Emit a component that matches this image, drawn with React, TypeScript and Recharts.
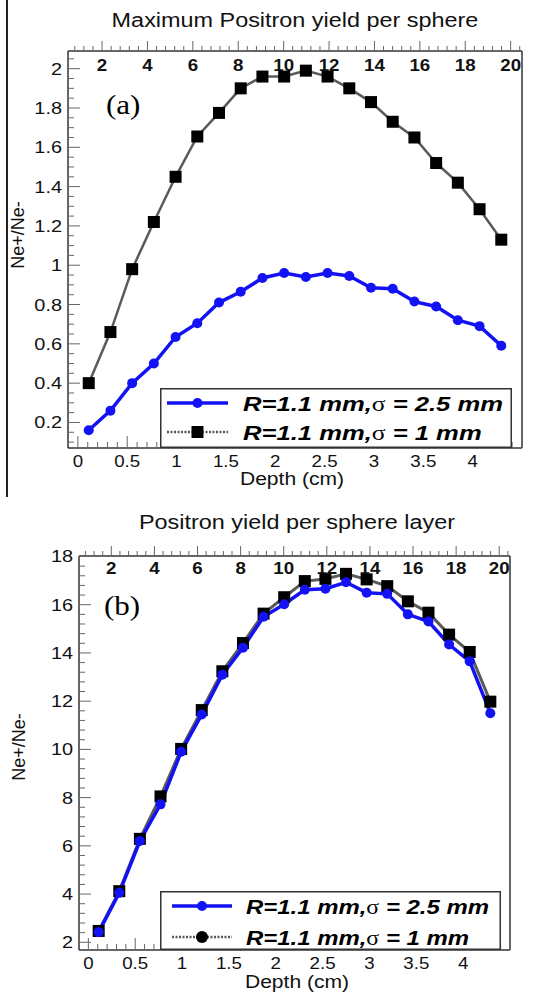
import React from "react";
import { Legend, Line, LineChart, XAxis, YAxis } from "recharts";

// depth of each sphere layer centre (cm)
const depth = [0.11, 0.33, 0.55, 0.77, 0.99, 1.21, 1.43, 1.65, 1.87, 2.09, 2.31, 2.53, 2.75, 2.97, 3.19, 3.41, 3.63, 3.85, 4.07, 4.29];
// layer number (top axis)
const layer = [1, 2, 3, 4, 5, 6, 7, 8, 9, 10, 11, 12, 13, 14, 15, 16, 17, 18, 19, 20];

// (a) maximum positron yield per sphere
const maxWide = [0.16, 0.26, 0.4, 0.5, 0.635, 0.705, 0.81, 0.865, 0.935, 0.96, 0.94, 0.96, 0.945, 0.885, 0.88, 0.815, 0.79, 0.72, 0.69, 0.59];
const maxNarrow = [0.4, 0.66, 0.98, 1.22, 1.45, 1.655, 1.775, 1.9, 1.96, 1.96, 1.99, 1.96, 1.9, 1.83, 1.73, 1.65, 1.52, 1.42, 1.285, 1.13];

// (b) positron yield per sphere layer
const layerWide = [2.42, 4.05, 6.2, 7.72, 9.9, 11.45, 13.1, 14.22, 15.5, 16.02, 16.62, 16.66, 16.93, 16.5, 16.45, 15.6, 15.3, 14.35, 13.65, 11.5];
const layerNarrow = [2.47, 4.12, 6.29, 8.05, 10.02, 11.63, 13.24, 14.41, 15.63, 16.31, 16.98, 17.07, 17.28, 17.05, 16.77, 16.14, 15.67, 14.76, 14.04, 11.98];

const SERIES_WIDE = "R=1.1 mm,σ = 2.5 mm";
const SERIES_NARROW = "R=1.1 mm,σ = 1 mm";

const depthMajor = [0, 0.5, 1, 1.5, 2, 2.5, 3, 3.5, 4];
const layerMajor = [2, 4, 6, 8, 10, 12, 14, 16, 18, 20];
const maxMajor = [0.2, 0.4, 0.6, 0.8, 1, 1.2, 1.4, 1.6, 1.8, 2];
const layerYMajor = [2, 4, 6, 8, 10, 12, 14, 16, 18];

const FONT = "'Liberation Sans', Arial, sans-serif";
const BLUE = "#1212f4";
const FRAME = "#333";
const SX = 1.17;

const steps = (from: number, to: number, step: number) => {
  const out: number[] = [];
  for (let v = from; v <= to + 1e-9; v += step) out.push(Math.round(v * 1000) / 1000);
  return out;
};
const isMajor = (v: number, majors: number[]) => majors.some((m) => Math.abs(m - v) < 1e-6);

const maxRows = depth.map((d, i) => ({ depth: d, layer: layer[i], wide: maxWide[i], narrow: maxNarrow[i] }));
const layerRows = depth.map((d, i) => ({ depth: d, layer: layer[i], wide: layerWide[i], narrow: layerNarrow[i] }));

const bottomTick = (majors: number[]) => (props: any) => {
  const { x, y, payload } = props;
  const major = isMajor(payload.value, majors);
  return (
    <g>
      <line x1={x} x2={x} y1={y} y2={y - (major ? 12 : 6)} stroke="#666" strokeWidth={1} />
      {major && (
        <text transform={`translate(${x},${y + 19}) scale(${SX},1)`} textAnchor="middle" fontFamily={FONT} fontSize={16} fill="#111">
          {payload.value}
        </text>
      )}
    </g>
  );
};

const topTick = (majors: number[], dy: number) => (props: any) => {
  const { x, y, payload } = props;
  const major = isMajor(payload.value, majors);
  return (
    <g>
      <line x1={x} x2={x} y1={y} y2={y - (major ? 10 : 5)} stroke="#666" strokeWidth={1} />
      {major && (
        <text transform={`translate(${x},${y + dy}) scale(${SX},1)`} textAnchor="middle" fontFamily={FONT} fontWeight="bold" fontSize={16} fill="#111">
          {payload.value}
        </text>
      )}
    </g>
  );
};

const leftTick = (majors: number[]) => (props: any) => {
  const { x, y, payload } = props;
  const major = isMajor(payload.value, majors);
  return (
    <g>
      <line x1={x} x2={x + (major ? 12 : 6)} y1={y} y2={y} stroke="#666" strokeWidth={1} />
      {major && (
        <text transform={`translate(${x - 6},${y + 6}) scale(${SX},1)`} textAnchor="end" fontFamily={FONT} fontSize={17} fill="#111">
          {payload.value}
        </text>
      )}
    </g>
  );
};

const squareDot = (props: any) => {
  const { cx, cy, index } = props;
  return <rect key={`sq-${index}`} x={cx - 6} y={cy - 6} width={12} height={12} fill="#000" />;
};

interface LegendCfg {
  width: number;
  height: number;
  rows: number[];
  sample: [number, number];
  textX: number;
  textScale: number;
  narrowCircle: boolean;
}

const makeLegend = (cfg: LegendCfg) => (props: any) => {
  const entries: any[] = props.payload ?? [];
  const order = [SERIES_WIDE, SERIES_NARROW];
  const mid = (cfg.sample[0] + cfg.sample[1]) / 2;
  return (
    <svg width={cfg.width} height={cfg.height} style={{ display: "block" }}>
      <rect x={0.75} y={0.75} width={cfg.width - 1.5} height={cfg.height - 1.5} fill="#fff" stroke={FRAME} strokeWidth={1.5} />
      {order.map((name, i) => {
        const entry = entries.find((e) => e.value === name);
        const label = entry ? String(entry.value) : name;
        const [before, after] = label.split("σ");
        const y = cfg.rows[i];
        const wide = i === 0;
        return (
          <g key={name}>
            <line
              x1={cfg.sample[0]}
              x2={cfg.sample[1]}
              y1={y}
              y2={y}
              stroke={wide ? BLUE : "#555"}
              strokeWidth={wide ? 3.5 : 2.5}
              strokeDasharray={wide ? undefined : "2 1.5"}
            />
            {wide ? (
              <circle cx={mid} cy={y} r={5} fill={BLUE} />
            ) : cfg.narrowCircle ? (
              <circle cx={mid} cy={y} r={6} fill="#000" />
            ) : (
              <rect x={mid - 6} y={y - 6} width={12} height={12} fill="#000" />
            )}
            <text
              transform={`translate(${cfg.textX},${y + 7.5}) scale(${cfg.textScale},1)`}
              fontFamily={FONT}
              fontWeight="bold"
              fontStyle="italic"
              fontSize={21}
              fill="#000"
            >
              {before}
              <tspan fontFamily="'Liberation Serif', serif" fontWeight="normal" fontStyle="normal">
                σ
              </tspan>
              {after}
            </text>
          </g>
        );
      })}
    </svg>
  );
};

const textStyle = (left: number, top: number, size: number, extra: React.CSSProperties = {}): React.CSSProperties => ({
  position: "absolute",
  left,
  top,
  transform: `translate(-50%,-50%) scaleX(${SX})`,
  whiteSpace: "nowrap",
  fontFamily: FONT,
  fontSize: size,
  lineHeight: 1,
  color: "#111",
  ...extra,
});

const yTitleStyle = (left: number, top: number): React.CSSProperties => ({
  position: "absolute",
  left,
  top,
  transform: "translate(-50%,-50%) rotate(-90deg)",
  whiteSpace: "nowrap",
  fontFamily: FONT,
  fontSize: 18,
  lineHeight: 1,
  color: "#111",
});

const letterStyle = (left: number, top: number): React.CSSProperties => ({
  position: "absolute",
  left,
  top,
  transform: `translate(0,-50%) scaleX(1.15)`,
  transformOrigin: "left center",
  fontFamily: "'Liberation Serif', 'Times New Roman', serif",
  fontSize: 27,
  lineHeight: 1,
  color: "#000",
});

export default function App() {
  return (
    <div style={{ position: "absolute", left: 0, top: 0, width: 552, height: 993, background: "#fff", overflow: "hidden" }}>
      <div style={{ position: "absolute", left: 6, top: 0, width: 2, height: 497, background: "#222" }} />

      {/* (a) */}
      <div style={{ position: "absolute", left: 0, top: 0 }}>
        <LineChart width={552} height={500} data={maxRows} margin={{ top: 31, right: 29, bottom: 22, left: 8 }}>
          <XAxis
            type="number"
            dataKey="depth"
            domain={[-0.1, 4.5]}
            allowDataOverflow
            ticks={steps(0, 4.5, 0.1)}
            interval={0}
            height={30}
            tickSize={0}
            tickMargin={0}
            tickLine={false}
            tick={bottomTick(depthMajor)}
            axisLine={{ stroke: FRAME, strokeWidth: 1.5 }}
          />
          <XAxis
            xAxisId="top"
            orientation="top"
            type="number"
            dataKey="layer"
            domain={[0.5, 20.5]}
            allowDataOverflow
            ticks={steps(0.8, 20.4, 0.4)}
            interval={0}
            height={20}
            tickSize={0}
            tickMargin={0}
            tickLine={false}
            tick={topTick(layerMajor, 20)}
            axisLine={{ stroke: FRAME, strokeWidth: 1.5 }}
          />
          <YAxis
            type="number"
            domain={[0.07, 2.09]}
            allowDataOverflow
            ticks={steps(0.1, 2.05, 0.05)}
            interval={0}
            width={60}
            tickSize={0}
            tickMargin={0}
            tickLine={false}
            tick={leftTick(maxMajor)}
            axisLine={{ stroke: FRAME, strokeWidth: 1.5 }}
          />
          <YAxis yAxisId="frame" orientation="right" width={1} tick={false} tickLine={false} axisLine={{ stroke: FRAME, strokeWidth: 1.5 }} />
          <Legend
            layout="horizontal"
            verticalAlign="middle"
            align="center"
            wrapperStyle={{ left: 160, top: 388, width: 352, height: 60 }}
            content={makeLegend({ width: 352, height: 60, rows: [15, 44], sample: [7, 68], textX: 83, textScale: 1.22, narrowCircle: false })}
          />
          <Line
            type="linear"
            dataKey="wide"
            name={SERIES_WIDE}
            stroke={BLUE}
            strokeWidth={3.5}
            dot={{ r: 5, fill: BLUE, stroke: BLUE, strokeWidth: 0 }}
            isAnimationActive={false}
          />
          <Line
            type="linear"
            dataKey="narrow"
            name={SERIES_NARROW}
            stroke="#5a5a5a"
            strokeWidth={2.5}
            dot={squareDot}
            isAnimationActive={false}
          />
        </LineChart>
        <div style={textStyle(295, 20, 20)}>Maximum Positron yield per sphere</div>
        <div style={letterStyle(106, 105)}>(a)</div>
        <div style={yTitleStyle(18, 235)}>Ne+/Ne-</div>
        <div style={textStyle(292, 479, 18)}>Depth (cm)</div>
      </div>

      {/* (b) */}
      <div style={{ position: "absolute", left: 0, top: 500 }}>
        <LineChart width={552} height={493} data={layerRows} margin={{ top: 36, right: 41, bottom: 13, left: 19 }}>
          <XAxis
            type="number"
            dataKey="depth"
            domain={[-0.1, 4.5]}
            allowDataOverflow
            ticks={steps(0, 4.5, 0.1)}
            interval={0}
            height={30}
            tickSize={0}
            tickMargin={0}
            tickLine={false}
            tick={bottomTick(depthMajor)}
            axisLine={{ stroke: FRAME, strokeWidth: 1.5 }}
          />
          <XAxis
            xAxisId="top"
            orientation="top"
            type="number"
            dataKey="layer"
            domain={[0.5, 20.5]}
            allowDataOverflow
            ticks={steps(0.8, 20.4, 0.4)}
            interval={0}
            height={20}
            tickSize={0}
            tickMargin={0}
            tickLine={false}
            tick={topTick(layerMajor, 18)}
            axisLine={{ stroke: FRAME, strokeWidth: 1.5 }}
          />
          <YAxis
            type="number"
            domain={[1.68, 18.02]}
            allowDataOverflow
            ticks={steps(2, 18, 0.4)}
            interval={0}
            width={60}
            tickSize={0}
            tickMargin={0}
            tickLine={false}
            tick={leftTick(layerYMajor)}
            axisLine={{ stroke: FRAME, strokeWidth: 1.5 }}
          />
          <YAxis yAxisId="frame" orientation="right" width={1} tick={false} tickLine={false} axisLine={{ stroke: FRAME, strokeWidth: 1.5 }} />
          <Legend
            layout="horizontal"
            verticalAlign="middle"
            align="center"
            wrapperStyle={{ left: 160, top: 391, width: 341, height: 59 }}
            content={makeLegend({ width: 341, height: 59, rows: [15, 46], sample: [12, 72], textX: 86, textScale: 1.14, narrowCircle: true })}
          />
          <Line
            type="linear"
            dataKey="narrow"
            name={SERIES_NARROW}
            stroke="#5a5a5a"
            strokeWidth={3}
            dot={squareDot}
            isAnimationActive={false}
          />
          <Line
            type="linear"
            dataKey="wide"
            name={SERIES_WIDE}
            stroke={BLUE}
            strokeWidth={3.5}
            dot={{ r: 5, fill: BLUE, stroke: BLUE, strokeWidth: 0 }}
            isAnimationActive={false}
          />
        </LineChart>
        <div style={textStyle(297, 22, 20)}>Positron yield per sphere layer</div>
        <div style={letterStyle(104, 106)}>(b)</div>
        <div style={yTitleStyle(19, 247)}>Ne+/Ne-</div>
        <div style={textStyle(297, 482, 18)}>Depth (cm)</div>
      </div>
    </div>
  );
}
